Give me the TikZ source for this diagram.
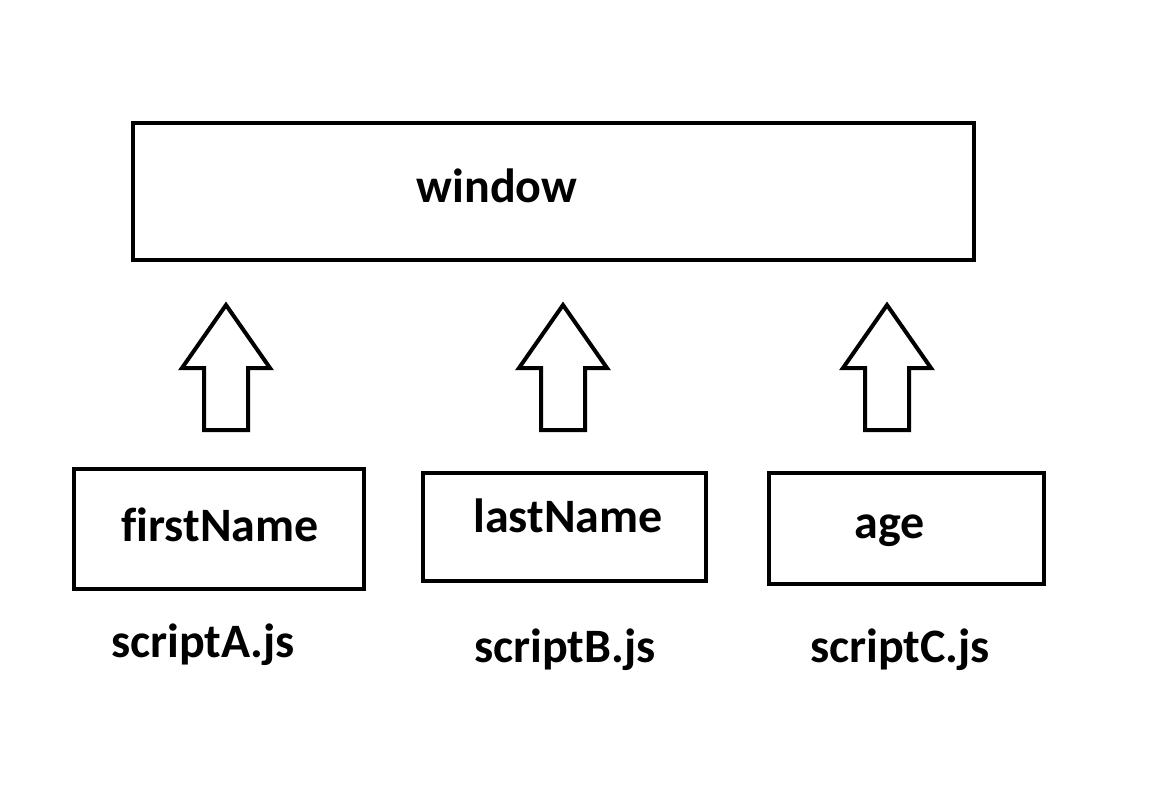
\documentclass[tikz,border=0pt]{standalone}
\usepackage{fontspec}
\setmainfont{Carlito}[Ligatures=NoCommon]
\usetikzlibrary{positioning}

\begin{document}
\begin{tikzpicture}[
      x=1pt, y=-1pt,
      box/.style={
        draw,
        line width=4pt,
        inner sep=0pt
      },
      lbl/.style={
        font=\fontsize{48}{57}\selectfont\bfseries,
        inner sep=0pt,
        anchor=base
      },
      blockarr/.style={
        draw,
        line width=4pt,
        line join=miter
      }
    ]
    \useasboundingbox (0,0) rectangle (1168,796);

    \node[box, minimum width=841pt, minimum height=137pt] (window) at (553.5,191.5) {};
    \node[lbl] (windowlbl) at (497,202) {window};

    \node[box, minimum width=290pt, minimum height=120pt] (first) at (218.75,529) {};
    \node[lbl] (firstlbl) at (220,541) {firstName};

    \node[box, minimum width=283pt, minimum height=108pt] (last) at (564.5,527) {};
    \node[lbl] (lastlbl) at (568,532) {lastName};

    \node[box, minimum width=275pt, minimum height=111pt] (age) at (906.5,528.5) {};
    \node[lbl] (agelbl) at (890,538) {age};

    \node[lbl] (scripta) at (203,657) {scriptA.js};
    \node[lbl] (scriptb) at (565,662) {scriptB.js};
    \node[lbl] (scriptc) at (900,662) {scriptC.js};

    % block arrows
    \foreach \ax in {226,563,887}
      \draw[blockarr] (\ax,305) -- (\ax+44,368) -- (\ax+22,368) -- (\ax+22,430)
        -- (\ax-22,430) -- (\ax-22,368) -- (\ax-44,368) -- cycle;

  \end{tikzpicture}
\end{document}
